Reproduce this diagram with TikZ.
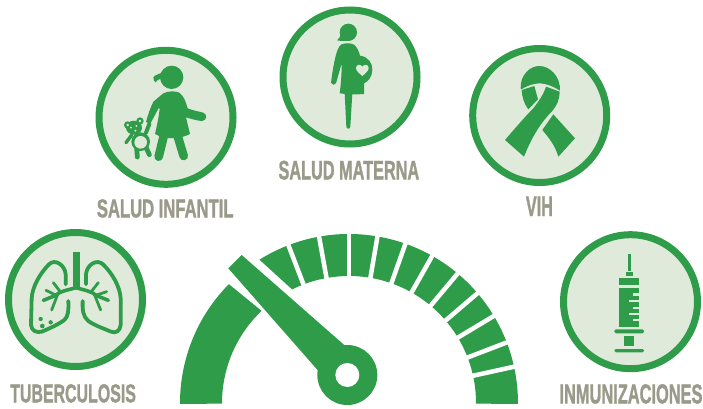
\documentclass[tikz,border=0pt]{standalone}
\usepackage{fontspec}
\usepackage{graphicx}
\setmainfont{Liberation Sans}
\newfontfamily\labfont[BoldFeatures={FakeBold=1.6}]{Liberation Sans}
\definecolor{gr}{RGB}{47,156,74}
\definecolor{pale}{RGB}{224,234,219}
\definecolor{tx}{RGB}{154,154,138}
\tikzset{
 ring/.style={circle,draw=gr,fill=pale,line width=7pt,minimum size=134pt,inner sep=0pt},
 lab/.style={anchor=base west,inner sep=0pt,text=tx},
 zm/.style 2 args={xshift=#1pt,yshift={(408-#2)*1pt},x=0.33333pt,y=-0.33333pt},
 stk/.style={draw=gr,line cap=round,line join=round},
}
\newcommand{\lbl}[3]{\resizebox{#1pt}{#2pt}{\labfont\bfseries #3}}
\newcommand{\gseg}[4]{\fill[gr] (#1:169) arc (#1:#2:169) -- (#4:127) arc (#4:#3:127) -- cycle;}
\begin{document}
\begin{tikzpicture}[x=1pt,y=1pt]
\useasboundingbox (0,0) rectangle (703,408);
% circles
\node[ring] (infantil) at (166,290.7) {};
\node[ring] (materna) at (350,331) {};
\node[ring] (vih) at (539.7,292.5) {};
\node[ring] (tb) at (75.5,108.5) {};
\node[ring] (imm) at (630.5,106.3) {};
% labels
\node[lab] (tinf) at (96.7,190.7) {\lbl{136.6}{18}{SALUD INFANTIL}};
\node[lab] (tmat) at (278.3,228.7) {\lbl{140.7}{18.6}{SALUD MATERNA}};
\node[lab] (tvih) at (525.7,192) {\lbl{27}{19.3}{VIH}};
\node[lab] (ttb) at (10,5.7) {\lbl{125.7}{18}{TUBERCULOSIS}};
\node[lab] (timm) at (559.3,4.7) {\lbl{143}{19}{INMUNIZACIONES}};
% child
\begin{scope}[zm={120}{60}]
 \fill[gr] (155,52) circle (35);
 \fill[gr] (132,36) .. controls (118,42) and (105,44) .. (100,52) .. controls (100,60) and (103,65) .. (107,67) .. controls (112,58) and (122,56) .. (130,56) -- cycle;
 \fill[gr] (130,100) .. controls (145,93) and (165,92) .. (178,98) .. controls (192,108) and (197,125) .. (203,145) .. controls (220,152) and (240,155) .. (250,158) .. controls (262,162) and (262,182) .. (246,183) .. controls (232,182) and (218,178) .. (198,172) -- (210,222) .. controls (180,238) and (135,240) .. (105,222) .. controls (110,200) and (116,175) .. (119,146) -- (116,144) .. controls (108,160) and (98,178) .. (90,192) -- (78,186) .. controls (84,165) and (90,145) .. (100,125) -- cycle;
 \draw[stk,line width=8.7pt] (132,225) -- (116,290);
 \draw[stk,line width=8.7pt] (172,225) -- (191,288);
 % teddy
 \draw[stk,line width=3.4pt] (35,225) -- (18,248);
 \draw[stk,line width=4pt] (78,218) -- (88,192);
 \draw[stk,line width=4.8pt] (50,265) -- (52,291);
 \draw[stk,line width=4.8pt] (78,262) -- (88,284);
 \fill[gr] (62,245) circle (28);
 \fill[pale] (62,247) circle (19);
 \fill[gr] (42,203) ellipse (24 and 21);
 \fill[gr] (23,195) circle (11);
 \fill[gr] (60,183) circle (11);
 \fill[pale] (23,195) circle (4);
 \fill[pale] (60,183) circle (4);
 \fill[pale] (33,203) circle (3);
 \fill[pale] (49,198) circle (3);
 \fill[pale] (46,212) circle (3.5);
\end{scope}
% pregnant
\begin{scope}[zm={270}{0}]
 \fill[gr] (235,97) circle (26);
 \fill[gr] (213,100) .. controls (211,110) and (208,116) .. (201,121) .. controls (212,123) and (225,124) .. (238,122) -- cycle;
 \fill[gr] (215,133) .. controls (228,128) and (243,129) .. (252,134) .. controls (262,142) and (267,155) .. (270,167) .. controls (295,170) and (308,190) .. (307,210) .. controls (306,230) and (295,245) .. (282,250) -- (282,282) .. controls (258,284) and (232,283) .. (209,280) .. controls (213,250) and (215,225) .. (215,190) -- (198,250) .. controls (195,256) and (185,256) .. (183,248) .. controls (188,210) and (195,165) .. (205,145) .. controls (207,140) and (210,136) .. (215,133) -- cycle;
 \fill[gr] (224,280) -- (247,280) -- (241,380) .. controls (240,388) and (230,388) .. (229,380) -- cycle;
 \fill[pale] (277,228) .. controls (268,220) and (258,213) .. (258,204) .. controls (258,193) and (272,191) .. (277,200) .. controls (282,191) and (296,193) .. (296,204) .. controls (296,213) and (286,220) .. (277,228) -- cycle;
\end{scope}
% ribbon
\begin{scope}[zm={500}{60}]
 \fill[gr] (62,85) .. controls (60,45) and (90,18) .. (118,18) .. controls (150,18) and (182,50) .. (180,92) .. controls (160,80) and (145,72) .. (120,70) .. controls (100,70) and (80,78) .. (64,88) -- cycle;
 \fill[gr] (65,90) -- (103,78) -- (114,118) -- (85,148) .. controls (72,132) and (66,110) .. (65,90) -- cycle;
 \fill[gr] (138,80) -- (179,95) .. controls (178,120) and (172,135) .. (155,155) .. controls (115,195) and (90,245) .. (72,290) -- (15,240) .. controls (45,205) and (75,170) .. (100,145) .. controls (115,125) and (130,105) .. (138,80) -- cycle;
 \fill[gr] (160,163) -- (225,235) -- (175,290) .. controls (165,255) and (145,232) .. (127,210) -- cycle;
\end{scope}
% lungs
\begin{scope}[zm={25}{245}]
 \fill[gr] (143,22) -- (164,22) -- (164,130) -- (143,130) -- cycle;
 \draw[stk,line width=3.8pt] (122,118) -- (122,88) .. controls (120,60) and (90,40) .. (72,58) .. controls (45,85) and (22,125) .. (20,160) -- (18,240) .. controls (20,258) and (35,264) .. (50,260) .. controls (75,250) and (100,238) .. (118,225) .. controls (130,215) and (131,195) .. (130,168);
 \draw[stk,line width=3.8pt] (183,118) -- (183,88) .. controls (185,60) and (215,40) .. (234,58) .. controls (262,85) and (285,125) .. (287,160) -- (287,240) .. controls (285,258) and (272,266) .. (258,260) .. controls (235,250) and (210,242) .. (190,228) .. controls (174,215) and (172,195) .. (173,168);
 \draw[stk,line width=3.6pt] (153,128) .. controls (130,135) and (105,138) .. (90,152) -- (55,166);
 \draw[stk,line width=3.6pt] (153,128) .. controls (175,135) and (200,138) .. (215,152) -- (250,166);
 \draw[stk,line width=2.8pt] (92,150) -- (63,136);
 \draw[stk,line width=2.8pt] (108,143) -- (85,113);
 \draw[stk,line width=2.8pt] (98,148) -- (80,195);
 \draw[stk,line width=2.8pt] (215,150) -- (245,140);
 \draw[stk,line width=2.8pt] (197,142) -- (220,113);
 \draw[stk,line width=2.8pt] (208,148) -- (227,195);
 \fill[gr] (47,222) circle (6.5);
 \fill[gr] (52,243) circle (7);
 \fill[gr] (77,232) circle (6.5);
\end{scope}
% syringe
\begin{scope}[zm={550}{225}]
 \fill[gr] (233,87) rectangle (243,137);
 \fill[gr] (228,141) rectangle (248,152);
 \fill[gr] (208,160) rectangle (267,180);
 \fill[gr] (208,188) rectangle (267,305);
 \fill[pale] (248,205) rectangle (267,212);
 \fill[pale] (236,225) rectangle (267,231);
 \fill[pale] (248,245) rectangle (267,251);
 \fill[pale] (236,264) rectangle (267,270);
 \fill[pale] (248,283) rectangle (267,289);
 \fill[gr,rounded corners=1.5pt] (193,313) rectangle (282,325);
 \fill[gr] (222,333) rectangle (253,362);
 \fill[gr,rounded corners=1.5pt] (193,372) rectangle (282,382);
\end{scope}
% gauge
\begin{scope}[shift={(349,5)}]
 \gseg{180.3}{135.3}{180.3}{133.5}
 \gseg{122}{-0.3}{116.6}{-0.3}
 \foreach \a in {12.4,21,31,40.5,50,60.5,70.5,80.3,90,100.2,111}
  \draw[white,line width=4.5pt] (\a:120) -- (\a:175);
\end{scope}
\begin{scope}[zm={175}{225}]
 \fill[gr] (517,450) circle (90);
 \fill[gr] (160,130) -- (200,90) -- (510,362) -- (432,440) -- cycle;
 \fill[white] (517,450) circle (36);
\end{scope}
\end{tikzpicture}
\end{document}
